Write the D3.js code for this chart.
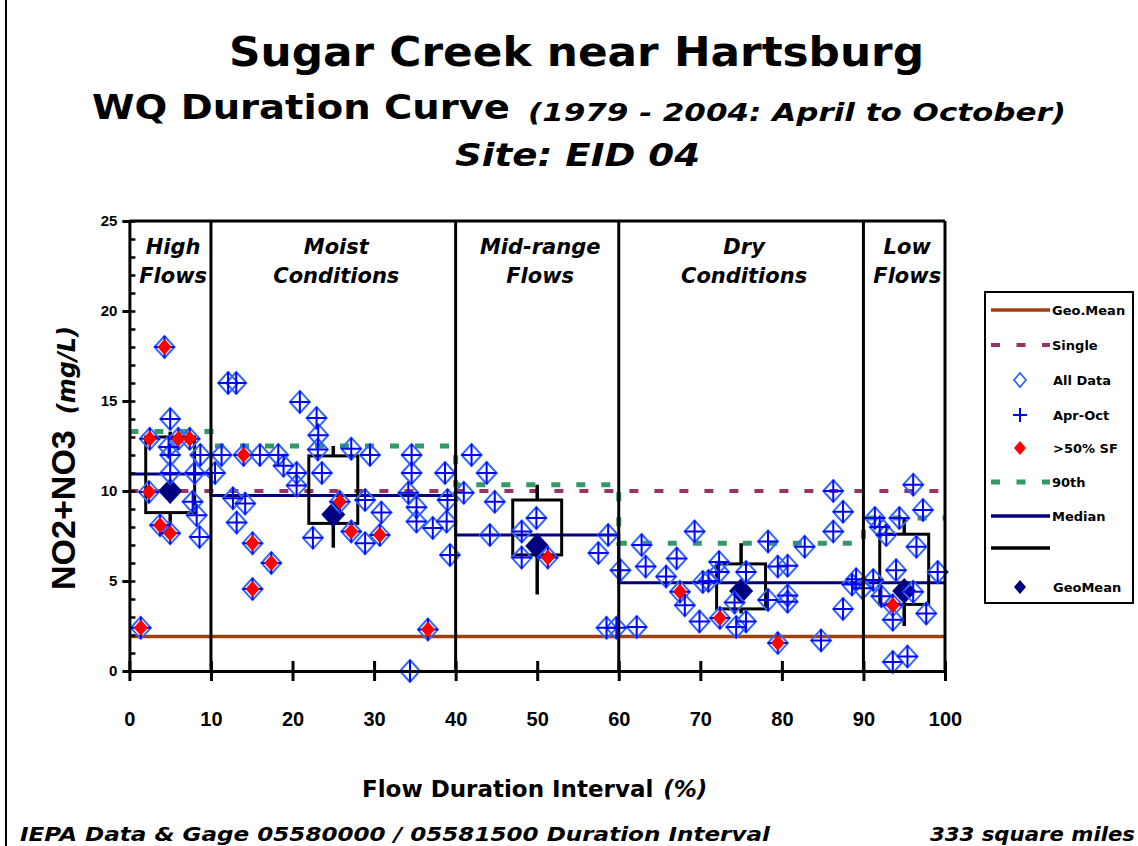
<!DOCTYPE html>
<html>
<head>
<meta charset="utf-8">
<script src="https://cdn.jsdelivr.net/npm/d3@7"></script>
<style>
body { margin: 0; background: #fff; }
svg { display: block; }
</style>
</head>
<body>
<svg id="chart" width="1138" height="846"></svg>
<script>
// flow zones
const zoneBounds = [0, 10, 40, 60, 90, 100]
const zoneNames = [["High", "Flows"], ["Moist", "Conditions"], ["Mid-range", "Flows"], ["Dry", "Conditions"], ["Low", "Flows"]]
const zoneCenters = [5, 25, 50, 75, 95]

// per zone statistics (mg/L)
const p90 = [13.3, 12.5, 10.35, 7.1, 8.5]
const p75 = [13.0, 11.95, 9.5, 5.95, 7.6]
const median = [10.95, 9.75, 7.55, 4.9, 4.9]
const p25 = [8.8, 8.2, 6.45, 3.45, 3.7]
const p10 = [8.2, 6.85, 4.25, 3.2, 2.5]
const zoneGeoMean = [10.0, 8.7, 6.95, 4.45, 4.45]

const geoMeanAll = 1.92
const singleStd = 10

const yTicks = [0, 5, 10, 15, 20, 25]
const xTicks = [0, 10, 20, 30, 40, 50, 60, 70, 80, 90, 100]

// samples: [flow duration %, NO2+NO3 mg/L, >50% SF flag]
const samples = [
	[1.4,2.4,1],[2.4,9.95,1],[2.5,12.9,1],[3.75,8.1,1],[4.3,18.0,1],[4.8,12.45,0],[5.0,14.0,0],[5.0,12.0,0],
	[5.0,11.0,0],[5.0,7.65,1],[6.0,12.9,1],[7.4,12.9,1],[7.75,9.4,0],[8.0,11.0,0],[8.25,8.65,0],[8.6,7.45,0],[8.7,12.0,0],
	[10.5,11.0,0],[11.3,12.0,0],[12.1,16.0,0],[12.7,9.6,0],[13.1,16.0,0],[13.15,8.25,0],[14.0,12.0,1],[14.2,9.3,0],
	[15.1,7.1,1],[15.1,4.55,1],[16.0,12.0,0],[17.4,6.0,1],[18.25,12.0,0],[18.9,11.4,0],[20.5,11.0,0],[20.5,10.3,0],
	[20.9,14.95,0],[22.5,7.4,0],[22.95,14.05,0],[23.15,13.1,0],[23.1,12.3,0],[23.6,11.0,0],[25.8,9.4,1],[27.2,12.35,0],
	[27.2,7.75,1],[28.9,9.5,0],[28.9,7.1,0],[29.5,12.0,0],[30.7,7.55,1],[30.9,8.8,0],[34.2,9.9,0],[34.4,0.0,0],
	[34.6,12.0,0],[34.6,11.0,0],[35.2,9.1,0],[35.2,8.3,0],[36.6,2.3,1],[37.2,7.95,0],[38.7,11.0,0],[38.9,8.3,0],
	[39.0,9.5,0],[39.3,6.45,0],
	[41.0,9.9,0],[41.95,12.0,0],[43.8,11.0,0],[44.2,7.55,0],[44.8,9.4,0],[48.1,7.75,0],[48.1,6.3,0],[49.9,8.5,0],
	[51.3,6.3,1],[57.5,6.55,0],[58.5,2.4,0],[58.7,7.55,0],[59.7,2.4,0],
	[60.2,5.6,0],[62.2,2.45,0],[62.8,7.0,0],[63.3,5.8,0],[65.8,5.25,0],[67.1,6.25,0],[67.5,4.4,1],[68.1,3.65,0],
	[69.3,7.75,0],[69.9,2.75,0],[70.3,4.95,0],[71.0,5.0,0],[72.3,6.05,0],[72.3,5.5,0],[72.4,2.95,1],[74.2,3.8,0],
	[74.4,2.45,0],[75.6,5.5,0],[75.6,2.75,0],[78.3,7.2,0],[78.3,3.95,0],[79.5,5.8,0],[79.5,1.55,1],[80.7,5.85,0],
	[80.7,4.2,0],[80.7,3.85,0],[82.8,6.9,0],[84.8,1.7,0],[86.3,10.0,0],[86.3,7.75,0],[87.5,8.85,0],[87.5,3.45,0],
	[88.6,4.8,0],[89.1,5.1,0],[89.9,4.6,0],
	[91.2,5.05,0],[91.4,8.5,0],[92.0,8.0,0],[92.2,4.15,0],[92.8,7.55,0],[93.6,3.65,1],[93.6,2.85,0],[93.6,0.5,0],
	[94.0,5.6,0],[94.4,8.5,0],[95.4,0.8,0],[96.1,10.35,0],[96.1,4.4,0],[96.5,6.9,0],[97.3,8.95,0],[97.7,3.2,0],[99.1,5.5,0]
]

const comic = "'Comic Sans MS', 'DejaVu Sans', sans-serif"
const arial = "'Liberation Sans', Arial, sans-serif"

const colors = {
	geo: "#A0400F", single: "#993366", all: "#3366FF", apr: "#0000FF",
	sf: "#FF0000", p90: "#339966", median: "#000080", box: "#000000", geoMean: "#000080"
}

var width = 1138, height = 846
var svg = d3.select("#chart")

var x = d3.scaleLinear().domain([0, 100]).range([129.4, 945])
var y = d3.scaleLinear().domain([0, 25]).range([671, 221])

function diamond(w, h) { return `M0,${-h}L${w},0L0,${h}L${-w},0Z` }

// outer frame edge
svg.append("line").attr("x1", 6).attr("x2", 6).attr("y1", 0).attr("y2", height)
	.attr("stroke", "#000").attr("stroke-width", 2)

// titles
function addText(str, px, py, size, opts) {
	opts = opts || {}
	var t = svg.append("text")
		.attr("x", px).attr("y", py)
		.attr("font-family", opts.family || comic)
		.attr("font-size", size)
		.attr("font-weight", "bold")
		.attr("font-style", opts.italic ? "italic" : "normal")
		.attr("text-anchor", opts.anchor || "start")
		.text(str)
	if (opts.len) t.attr("textLength", opts.len).attr("lengthAdjust", "spacingAndGlyphs")
	return t
}

addText("Sugar Creek near Hartsburg", 229, 66, 41, {len: 695})
addText("WQ Duration Curve", 92, 119, 33, {len: 418})
addText("(1979 - 2004:  April to October)", 528, 121, 24, {italic: true, len: 538})
addText("Site: EID 04", 455, 166, 32, {italic: true, len: 245})

// horizontal reference lines
svg.append("line")
	.attr("x1", x(0)).attr("x2", x(100)).attr("y1", y(geoMeanAll)).attr("y2", y(geoMeanAll))
	.attr("stroke", colors.geo).attr("stroke-width", 3.5)

svg.append("line")
	.attr("x1", x(0)).attr("x2", x(100)).attr("y1", y(singleStd)).attr("y2", y(singleStd))
	.attr("stroke", colors.single).attr("stroke-width", 4).attr("stroke-dasharray", "9,16")

var stepLine = d3.line().curve(d3.curveStepAfter).x(d => x(d[0])).y(d => y(d[1]))

svg.append("path")
	.attr("fill", "none").attr("stroke", colors.p90).attr("stroke-width", 5)
	.attr("stroke-dasharray", "9,16")
	.attr("d", stepLine(zoneBounds.map((b, i) => [b, p90[Math.min(i, 4)]])))

svg.append("path")
	.attr("fill", "none").attr("stroke", colors.median).attr("stroke-width", 3)
	.attr("d", stepLine(zoneBounds.map((b, i) => [b, median[Math.min(i, 4)]])))

// boxes and whiskers
zoneCenters.forEach((c, i) => {
	svg.append("rect")
		.attr("x", x(c - 3)).attr("width", x(c + 3) - x(c - 3))
		.attr("y", y(p75[i])).attr("height", y(p25[i]) - y(p75[i]))
		.attr("fill", "none").attr("stroke", colors.box).attr("stroke-width", 3)
	svg.append("line")
		.attr("x1", x(c)).attr("x2", x(c)).attr("y1", y(p90[i])).attr("y2", y(p75[i]))
		.attr("stroke", colors.box).attr("stroke-width", 3.5)
	svg.append("line")
		.attr("x1", x(c)).attr("x2", x(c)).attr("y1", y(p25[i])).attr("y2", y(p10[i]))
		.attr("stroke", colors.box).attr("stroke-width", 3.5)
})

// zone geometric means
svg.append("g").selectAll("path")
	.data(zoneCenters)
	.join("path")
	.attr("transform", (c, i) => `translate(${x(c)},${y(zoneGeoMean[i])})`)
	.attr("d", diamond(12, 13))
	.attr("fill", colors.geoMean)

// all data diamonds
svg.append("g").selectAll("path")
	.data(samples)
	.join("path")
	.attr("transform", d => `translate(${x(d[0])},${y(d[1])})`)
	.attr("d", diamond(10, 11))
	.attr("fill", "none").attr("stroke", colors.all).attr("stroke-width", 2)

// apr-oct crosses
svg.append("g").selectAll("path")
	.data(samples)
	.join("path")
	.attr("transform", d => `translate(${x(d[0])},${y(d[1])})`)
	.attr("d", "M-10,0H10M0,-11V11")
	.attr("fill", "none").attr("stroke", colors.apr).attr("stroke-width", 2)

// >50% SF
svg.append("g").selectAll("path")
	.data(samples.filter(d => d[2] === 1))
	.join("path")
	.attr("transform", d => `translate(${x(d[0])},${y(d[1])})`)
	.attr("d", diamond(7, 8))
	.attr("fill", colors.sf)

// zone dividers and frame
zoneBounds.slice(1, 5).forEach(b => {
	svg.append("line")
		.attr("x1", x(b)).attr("x2", x(b)).attr("y1", y(25)).attr("y2", y(0))
		.attr("stroke", "#000").attr("stroke-width", 3)
})
svg.append("line").attr("x1", x(0)).attr("x2", x(100)).attr("y1", y(25)).attr("y2", y(25))
	.attr("stroke", "#000").attr("stroke-width", 3)
svg.append("line").attr("x1", x(100)).attr("x2", x(100)).attr("y1", y(25)).attr("y2", y(0))
	.attr("stroke", "#000").attr("stroke-width", 3)

// zone labels
zoneNames.forEach((n, i) => {
	var cx = x((zoneBounds[i] + zoneBounds[i + 1]) / 2) + 3
	addText(n[0], cx, 254, 21, {italic: true, anchor: "middle"})
	addText(n[1], cx, 283, 21, {italic: true, anchor: "middle"})
})

// axes
var yAxisInner = g => g
	.attr("transform", `translate(${x(0)},0)`)
	.call(d3.axisRight(y).ticks(25).tickSize(6).tickSizeOuter(0).tickFormat(""))
	.call(g => g.select(".domain").remove())
	.call(g => g.selectAll(".tick line").attr("stroke-width", 2.5))

var yAxis = g => g
	.attr("transform", `translate(${x(0)},0)`)
	.call(d3.axisLeft(y).tickValues(yTicks).tickSize(7).tickSizeOuter(0).tickPadding(5))
	.call(g => g.select(".domain").attr("stroke-width", 3))
	.call(g => g.selectAll(".tick line").attr("stroke-width", 3))
	.call(g => g.selectAll(".tick text").attr("font-family", arial).attr("font-weight", "bold").attr("font-size", 15))

var xAxisInner = g => g
	.attr("transform", `translate(0,${y(0)})`)
	.call(d3.axisTop(x).tickValues(xTicks).tickSize(10).tickSizeOuter(0).tickFormat(""))
	.call(g => g.select(".domain").remove())
	.call(g => g.selectAll(".tick line").attr("stroke-width", 3))

var xAxis = g => g
	.attr("transform", `translate(0,${y(0)})`)
	.call(d3.axisBottom(x).tickValues(xTicks).tickSize(10).tickSizeOuter(0).tickPadding(31))
	.call(g => g.select(".domain").attr("stroke-width", 3))
	.call(g => g.selectAll(".tick line").attr("stroke-width", 3))
	.call(g => g.selectAll(".tick text").attr("font-family", arial).attr("font-weight", "bold").attr("font-size", 20))

svg.append("g").call(yAxisInner)
svg.append("g").call(yAxis)
svg.append("g").call(xAxisInner)
svg.append("g").call(xAxis)

// axis titles
var yl = svg.append("text")
	.attr("transform", "translate(75,458) rotate(-90)")
	.attr("text-anchor", "middle")
	.attr("font-weight", "bold")
yl.append("tspan").attr("font-family", arial).attr("font-size", 34).text("NO2+NO3")
yl.append("tspan").attr("dx", 16).attr("font-family", comic).attr("font-style", "italic").attr("font-size", 24).text("(mg/L)")

var xl = svg.append("text")
	.attr("x", 362).attr("y", 797)
	.attr("font-family", comic).attr("font-weight", "bold").attr("font-size", 23)
xl.append("tspan").text("Flow Duration Interval")
xl.append("tspan").attr("dx", 10).attr("font-style", "italic").text("(%)")

// footer
addText("IEPA Data & Gage 05580000 / 05581500 Duration Interval", 20, 841, 20, {italic: true, len: 750})
addText("333 square miles", 930, 841, 20, {italic: true, len: 205})

// legend
var lg = svg.append("g")
lg.append("rect").attr("x", 985).attr("y", 292).attr("width", 148).attr("height", 311)
	.attr("fill", "#fff").attr("stroke", "#000").attr("stroke-width", 2)

var legendItems = [
	{label: "Geo.Mean", y: 310, type: "line", color: colors.geo, w: 3.5},
	{label: "Single", y: 345, type: "dash", color: colors.single, w: 4},
	{label: "All Data", y: 380, type: "open", color: colors.all},
	{label: "Apr-Oct", y: 415, type: "plus", color: colors.apr},
	{label: ">50% SF", y: 448, type: "fill", color: colors.sf},
	{label: "90th", y: 482, type: "dash", color: colors.p90, w: 5},
	{label: "Median", y: 516, type: "line", color: colors.median, w: 3.5},
	{label: "", y: 548, type: "line", color: "#000", w: 3.5},
	{label: "GeoMean", y: 587, type: "fill", color: colors.geoMean}
]

legendItems.forEach(d => {
	if (d.type === "line" || d.type === "dash") {
		var l = lg.append("line").attr("x1", 991).attr("x2", 1050).attr("y1", d.y).attr("y2", d.y)
			.attr("stroke", d.color).attr("stroke-width", d.w)
		if (d.type === "dash") l.attr("stroke-dasharray", "9,16.5")
	} else if (d.type === "open") {
		lg.append("path").attr("transform", `translate(1020,${d.y})`).attr("d", diamond(6, 7))
			.attr("fill", "none").attr("stroke", d.color).attr("stroke-width", 1.8)
	} else if (d.type === "plus") {
		lg.append("path").attr("transform", `translate(1020,${d.y})`).attr("d", "M-7,0H7M0,-7V7")
			.attr("stroke", d.color).attr("stroke-width", 2)
	} else {
		lg.append("path").attr("transform", `translate(1020,${d.y})`).attr("d", diamond(6, 7))
			.attr("fill", d.color)
	}
	lg.append("text").attr("x", d.type === "line" || d.type === "dash" ? 1052 : 1053).attr("y", d.y + 5)
		.attr("font-family", comic).attr("font-weight", "bold").attr("font-size", 13)
		.text(d.label)
})
</script>
</body>
</html>
